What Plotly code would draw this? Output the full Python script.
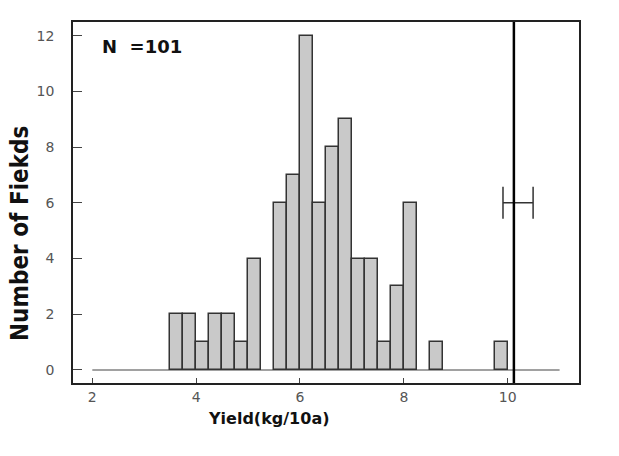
import plotly.graph_objects as go

# Histogram bins (left edges, width 0.25) and counts
bin_left = [3.50, 3.75, 4.00, 4.25, 4.50, 4.75, 5.00, 5.25, 5.50, 5.75, 6.00, 6.25,
            6.50, 6.75, 7.00, 7.25, 7.50, 7.75, 8.00, 8.25, 8.50, 8.75, 9.00, 9.25,
            9.50, 9.75]
counts = [2, 2, 1, 2, 2, 1, 4, 0, 6, 7, 12, 6,
          8, 9, 4, 4, 1, 3, 6, 0, 1, 0, 0, 0,
          0, 1]
bin_width = 0.25

x_ticks = [2, 4, 6, 8, 10]
y_ticks = [0, 2, 4, 6, 8, 10, 12]

ref_value = 10.12        # vertical reference line
err_center = 10.2        # error bar centre
err_half = 0.29          # error bar half-width
err_y = 6
baseline = [2, 11]
n_label = "N\u00a0\u00a0=101"

xs = [b + bin_width / 2 for b, c in zip(bin_left, counts) if c > 0]
ys = [c for c in counts if c > 0]

fig = go.Figure()
fig.add_trace(go.Bar(
    x=xs, y=ys, width=bin_width,
    marker=dict(color="#c9c9c9", line=dict(color="#333333", width=1.5)),
    showlegend=False, hoverinfo="skip",
))
fig.add_trace(go.Scatter(
    x=[err_center], y=[err_y], mode="markers",
    marker=dict(size=1, color="rgba(0,0,0,0)"),
    error_x=dict(type="data", array=[err_half], color="#333333", thickness=1.5, width=16),
    showlegend=False, hoverinfo="skip",
))

fig.add_shape(type="line", xref="x", yref="y", x0=baseline[0], x1=baseline[1], y0=0, y1=0,
              line=dict(color="#444444", width=1.2), layer="below")
fig.add_shape(type="line", xref="x", yref="paper", x0=ref_value, x1=ref_value, y0=0, y1=1,
              line=dict(color="#000000", width=2.5))

fig.add_annotation(text=n_label, xref="paper", yref="paper", x=(100 - 73) / 506, y=(383 - 46) / 361,
                   xanchor="left", yanchor="middle", showarrow=False,
                   font=dict(family="DejaVu Sans", size=18, color="#111111", weight="bold"))
fig.add_annotation(text="Yield(kg/10a)", xref="paper", yref="paper", x=(268 - 73) / 506, y=(383 - 418) / 361,
                   xanchor="center", yanchor="middle", showarrow=False,
                   font=dict(family="DejaVu Sans", size=16, color="#111111", weight="bold"))
fig.add_annotation(text="Number of Fiekds", xref="paper", yref="paper", x=(20 - 73) / 506, y=(383 - 234) / 361,
                   xanchor="center", yanchor="middle", showarrow=False, textangle=-90,
                   font=dict(family="Liberation Sans Narrow, DejaVu Sans Condensed, Arial", size=24,
                             color="#111111", weight="bold"))

fig.update_layout(
    width=619, height=456,
    margin=dict(l=73, r=40, t=22, b=73),
    paper_bgcolor="white", plot_bgcolor="white",
    bargap=0,
    font=dict(family="DejaVu Sans", size=14, color="#555555"),
)
fig.update_xaxes(range=[1.628, 11.374], tickvals=x_ticks, ticks="inside", ticklen=5,
                 tickcolor="#444444", showgrid=False, zeroline=False,
                 showline=True, linecolor="#222222", linewidth=1.5, mirror=True,
                 ticklabelstandoff=0,
                 tickfont=dict(family="DejaVu Sans", size=14, color="#555555"))
fig.update_yaxes(range=[-0.467, 12.49], tickvals=y_ticks, ticks="inside", ticklen=9,
                 tickcolor="#444444", showgrid=False, zeroline=False,
                 showline=True, linecolor="#222222", linewidth=1.5, mirror=True,
                 ticklabelstandoff=14,
                 tickfont=dict(family="DejaVu Sans", size=14, color="#555555"))

fig.write_html("out.html")
